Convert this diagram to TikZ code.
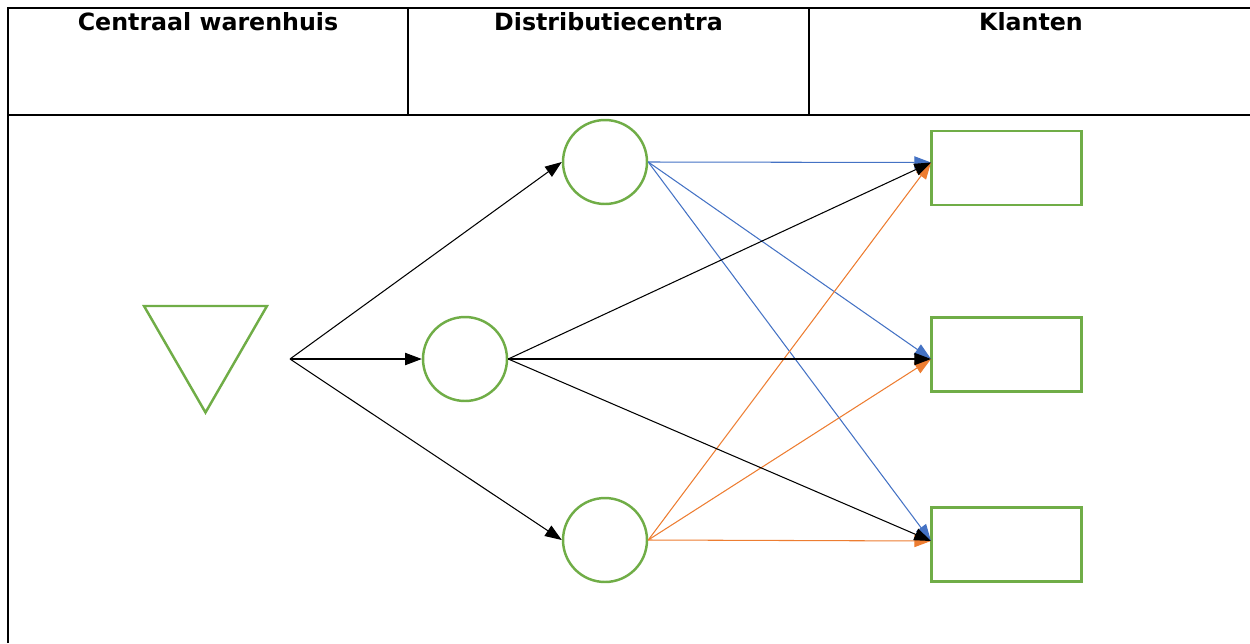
\documentclass[tikz,border=0pt]{standalone}
\usepackage{fontspec}
\setmainfont{DejaVu Sans}
\usetikzlibrary{arrows.meta,shapes.geometric}
\definecolor{officegreen}{HTML}{70AD47}
\definecolor{officeblue}{HTML}{4472C4}
\definecolor{officeorange}{HTML}{ED7D31}
\tikzset{
  tableline/.style={line width=1.2pt, black},
  header/.style={anchor=north, inner sep=0pt, font=\fontsize{13.5}{16}\selectfont\bfseries},
  warehouse/.style={regular polygon, regular polygon sides=3, shape border rotate=180,
    draw=officegreen, line width=1.4pt, minimum size=2.84cm, inner sep=0pt},
  dcnode/.style={circle, draw=officegreen, line width=1.4pt, minimum size=1.68cm, inner sep=0pt},
  client/.style={rectangle, draw=officegreen, line width=1.4pt, minimum width=3cm, minimum height=1.48cm, inner sep=0pt},
  flow/.style={line width=0.6pt, -{Triangle[length=9.5pt, width=7pt]}},
}

\begin{document}
\begin{tikzpicture}[x=0.02cm, y=-0.02cm]
        \useasboundingbox (0,0) rectangle (1250,643);
        % table
        \draw[tableline] (8,643) -- (8,8) -- (1250,8);
        \draw[tableline] (8,115) -- (1250,115);
        \draw[tableline] (408,8) -- (408,115);
        \draw[tableline] (809,8) -- (809,115);
        \foreach \Pos/\Title [count=\i] in {208/Centraal warenhuis, 608.5/Distributiecentra, 1031/Klanten}
        \node[header] (title\i) at (\Pos,12.5) {\Title};
        % shapes
        \node[warehouse] (wh) at (205.5,341.5) {};
        \node[dcnode] (dc1) at (605,162) {};
        \node[dcnode] (dc2) at (465,359) {};
        \node[dcnode] (dc3) at (605,540) {};
        \foreach \Point/\Name in {(1006.5,168)/k1, (1006.5,354.5)/k2, (1006.5,544.5)/k3}
        \node[client] (\Name) at \Point {};
        \coordinate (src) at (290,359);
        \coordinate (k1in) at (931,162.5);
        \coordinate (k2in) at (931,359);
        \coordinate (k3in) at (931,541);
        % flows
        \foreach \Dest in {dc1.west, dc2.west, dc3.west}
        \draw[flow, black] (src) -- (\Dest);
        \foreach \Dest in {k1in, k2in, k3in}
        \draw[flow, officeblue] (dc1.east) -- (\Dest);
        \foreach \Dest in {k1in, k2in, k3in}
        \draw[flow, officeorange] (dc3.east) -- (\Dest);
        \foreach \Dest in {k1in, k2in, k3in}
        \draw[flow, black] (dc2.east) -- (\Dest);
\end{tikzpicture}
\end{document}
